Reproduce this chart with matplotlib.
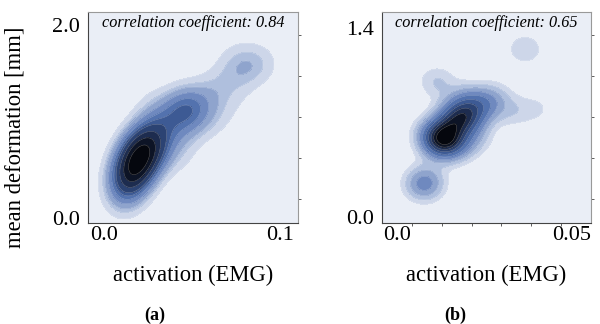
import numpy as np
import matplotlib.pyplot as plt
from matplotlib.ticker import FixedLocator

# estimated sample points (activation, deformation, weight) for each panel
act_a = [0.010, 0.012, 0.015, 0.018, 0.021, 0.024, 0.028, 0.035, 0.044, 0.051, 0.034, 0.045, 0.055,
         0.060, 0.068, 0.077, 0.085, 0.094, 0.027, 0.066, 0.072, 0.046, 0.066, 0.078]
def_a = [0.16, 0.32, 0.44, 0.55, 0.66, 0.76, 0.88, 1.00, 1.12, 1.16, 0.70, 0.85, 1.00,
         1.30, 1.42, 1.55, 1.60, 1.60, 1.18, 1.15, 1.70, 0.58, 0.98, 1.22]
w_a = [1.0, 2.5, 4.0, 4.5, 4.5, 3.5, 2.5, 1.6, 3.0, 2.0, 1.0, 0.8, 0.7,
       0.8, 0.8, 1.1, 1.3, 0.5, 0.7, 0.5, 0.4, 0.5, 0.4, 0.4]

act_b = [0.0128, 0.0140, 0.0165, 0.0180, 0.0210, 0.0230, 0.0260, 0.0100, 0.0170, 0.0220, 0.0200,
         0.0077, 0.0085, 0.0330, 0.0400, 0.0114, 0.0366, 0.0280]
def_b = [0.554, 0.62, 0.70, 0.78, 0.72, 0.82, 0.84, 0.62, 0.52, 0.58, 0.88,
         0.24, 0.30, 0.78, 0.80, 1.00, 1.24, 0.90]
w_b = [5.0, 2.5, 3.0, 2.5, 2.0, 1.5, 1.2, 1.5, 1.5, 1.0, 1.0,
       2.5, 0.5, 0.8, 0.6, 1.1, 1.0, 0.6]

corr = [0.84, 0.65]
xlims = [(-0.0091, 0.110), (-0.0043, 0.0554)]
ylims = [(-0.052, 2.135), (-0.044, 1.514)]
xticks = [[0.0, 0.1], [0.0, 0.05]]
xticklabels = [["0.0", "0.1"], ["0.0", "0.05"]]
yticks = [[0.0, 2.0], [0.0, 1.4]]
yticklabels = [["0.0", "2.0"], ["0.0", "1.4"]]
panel = ["(a)", "(b)"]

band_colors = ['#eaeef6', '#cdd6e9', '#afbfdd', '#8fa4cd', '#6f89bf', '#5372ae',
               '#3d5a94', '#2c4373', '#1d2c4f', '#0d1426', '#05070e']

plt.rcParams['font.family'] = ['Liberation Serif', 'DejaVu Serif']


def kde_grid(x, y, w, sx, sy, xl, yl):
    gx = np.linspace(xl[0], xl[1], 300)
    gy = np.linspace(yl[0], yl[1], 300)
    X, Y = np.meshgrid(gx, gy)
    Z = np.zeros_like(X)
    for xi, yi, wi in zip(x, y, w):
        Z += wi * np.exp(-0.5 * (((X - xi) / sx) ** 2 + ((Y - yi) / sy) ** 2))
    return X, Y, Z


def iso_levels(Z, n):
    # density levels that enclose equal proportions of mass, like seaborn
    vals = np.sort(Z.ravel())[::-1]
    cum = np.cumsum(vals) / vals.sum()
    props = np.linspace(0, 1, n)[1:-1]
    idx = np.searchsorted(cum, 1 - props)
    lv = np.sort(np.take(vals, idx, mode='clip'))
    return np.concatenate([[Z.min() - 1], lv, [Z.max() + 1]])


fig = plt.figure(figsize=(6, 3.24), dpi=100)
ax1 = fig.add_axes([0.1467, 0.3117, 0.35, 0.651])
ax2 = fig.add_axes([0.6367, 0.3117, 0.348, 0.651])

data = [(act_a, def_a, w_a, 0.0085, 0.17), (act_b, def_b, w_b, 0.0038, 0.085)]
for i, ax in enumerate([ax1, ax2]):
    x, y, w, sx, sy = data[i]
    ax.set_facecolor(band_colors[0])
    X, Y, Z = kde_grid(x, y, w, sx, sy, xlims[i], ylims[i])
    lv = iso_levels(Z, len(band_colors) + 1)
    ax.contourf(X, Y, Z, levels=lv, colors=band_colors)
    ax.contour(X, Y, Z, levels=lv[1:-1], colors='white', linewidths=0.35, alpha=0.35)
    ax.set_xlim(xlims[i])
    ax.set_ylim(ylims[i])
    ax.set_xticks(xticks[i])
    ax.set_xticklabels(xticklabels[i])
    ax.set_yticks(yticks[i])
    ax.set_yticklabels(yticklabels[i])
    ax.tick_params(which='major', length=0, labelsize=16, pad=6)
    ax.tick_params(axis='x', which='major', pad=2)
    y0, y1 = ylims[i]
    ax.yaxis.set_minor_locator(FixedLocator([y0 + f * (y1 - y0) for f in [0.114, 0.308, 0.502, 0.697, 0.891]]))
    ax.tick_params(axis='y', which='minor', left=False, right=True, length=2, width=0.6, color='#444444')
    if i == 1:
        x0, x1 = xlims[i]
        ax.xaxis.set_minor_locator(FixedLocator([x0 + k / 7 * (x1 - x0) for k in range(1, 7)]))
        ax.tick_params(axis='x', which='minor', length=2, width=0.6, color='#444444')
    for s in ['left', 'bottom']:
        ax.spines[s].set_color('#444444')
        ax.spines[s].set_linewidth(0.8)
    for s in ['top', 'right']:
        ax.spines[s].set_color('#999999')
        ax.spines[s].set_linewidth(0.8)
    ax.set_xlabel("activation (EMG)", fontsize=16.3)
    ax.xaxis.set_label_coords(0.5, -0.20)
    ax.text(0.5, 0.985, "correlation coefficient: %.2f" % corr[i], transform=ax.transAxes,
            ha='center', va='top', fontsize=11.7, style='italic')

ax1.set_ylabel("mean deformation [mm]", fontsize=16.3)
ax1.yaxis.set_label_coords(-0.30, 0.405)

fig.text(0.258, 0.028, panel[0], ha='center', va='center', fontsize=13, fontweight='bold')
fig.text(0.758, 0.028, panel[1], ha='center', va='center', fontsize=13, fontweight='bold')

fig.savefig("out.png", dpi=100)
